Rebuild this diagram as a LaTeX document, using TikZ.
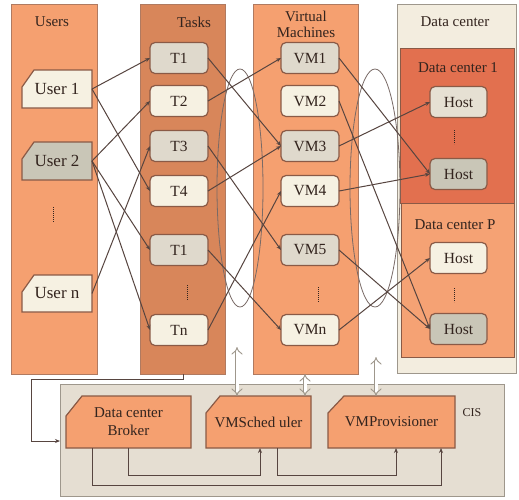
\documentclass[tikz,border=0pt]{standalone}
\usepackage{fontspec}
\setmainfont{Liberation Serif}
\usetikzlibrary{arrows.meta}
\definecolor{colA}{HTML}{F5A070}
\definecolor{colT}{HTML}{D8865A}
\definecolor{dcout}{HTML}{F3EDDF}
\definecolor{dcone}{HTML}{E2704F}
\definecolor{dcp}{HTML}{F5A274}
\definecolor{cisbg}{HTML}{E5DED2}
\definecolor{cisln}{HTML}{9E978C}
\definecolor{bxln}{HTML}{8A5A46}
\definecolor{bgray}{HTML}{DFD9CC}
\definecolor{bcream}{HTML}{F6F1E2}
\definecolor{bdark}{HTML}{C9C6B7}
\definecolor{lnc}{HTML}{574540}
\definecolor{txc}{HTML}{33241E}
\definecolor{colln}{HTML}{B07A60}
\newcommand\chbox[9]{%
  \draw[draw=bxln, line width=1.2pt, fill=#8] (#2,#5) -- (#4,#5) -- (#4,#3) -- ({#2+#6},#3) -- (#2,{#3+#7}) -- cycle;
  \node[rectangle, inner sep=0, outer sep=0, minimum width={(#4-#2)*1pt}, minimum height={(#5-#3)*1pt}, text=txc, align=center] (#1) at ({(#2+#4)/2},{(#3+#5)/2}) {#9};%
}
\begin{document}
\begin{tikzpicture}[x=1pt,y=-1pt,
  colbox/.style={rectangle, inner sep=0, outer sep=0, anchor=north west, draw=colln, line width=0.8pt},
  rbox/.style={rectangle, rounded corners=5pt, draw=bxln, line width=1.2pt, minimum width=58pt, minimum height=31pt, inner sep=0, outer sep=0, font=\fontsize{15.5}{17}\selectfont, text=txc},
  conn/.style={draw=lnc, line width=1pt, -{Stealth[length=5pt,width=4pt]}},
  hdr/.style={font=\fontsize{15}{17}\selectfont, text=txc},
  dotline/.style={draw=txc, line width=0.6pt, dash pattern=on 0.8pt off 1.2pt},
  dbl/.style={draw=cisln, double=white, double distance=3pt, line width=0.9pt, {Implies}-{Implies}},
  ellc/.style={draw=lnc!80, line width=0.8pt}]
\fill[white] (0,0) rectangle (519,499);
\useasboundingbox (0,0) rectangle (519,499);
% columns
\node[colbox, fill=colA, minimum width=86pt, minimum height=370pt] (usercol) at (11,4) {};
\node[colbox, fill=colT, minimum width=85pt, minimum height=370pt] (taskcol) at (140,4) {};
\node[colbox, fill=colA, minimum width=105pt, minimum height=370pt] (vmcol) at (253,4) {};
\node[colbox, fill=dcout, draw=cisln, minimum width=119pt, minimum height=369pt] (dccol) at (397,4) {};
\node[colbox, fill=dcone, draw=bxln, minimum width=114pt, minimum height=155pt] (dc1) at (400,48) {};
\node[colbox, fill=dcp, draw=bxln, minimum width=113pt, minimum height=154pt] (dcP) at (401,203) {};
% CIS
\node[colbox, fill=cisbg, draw=cisln, line width=1pt, minimum width=444pt, minimum height=112pt] (cis) at (60,384) {};
% headers
\node[hdr] (hu) at (52,22) {Users};
\node[hdr] (ht) at (194,22) {Tasks};
\node[hdr, align=center] (hv) at (306,24) {Virtual\\[-1pt]Machines};
\node[hdr] (hd) at (455,22) {Data center};
\node[hdr] (hd1) at (458,68) {Data center 1};
\node[hdr] (hdp) at (455,225) {Data center P};
\node[font=\fontsize{12}{14}\selectfont, text=txc] (cisl) at (472,413) {CIS};
% users
\begin{scope}[font=\fontsize{17}{19}\selectfont]
\chbox{u1}{22}{70}{92}{108}{12}{17}{bcream}{User 1}
\chbox{u2}{22}{142}{92}{180}{12}{17}{bdark}{User 2}
\chbox{un}{22}{275}{92}{312}{12}{17}{bcream}{User n}
\end{scope}
% tasks
\node[rbox, fill=bgray] (t1) at (179,58) {T1};
\node[rbox, fill=bcream] (t2) at (179,101) {T2};
\node[rbox, fill=bgray] (t3) at (179,146) {T3};
\node[rbox, fill=bcream] (t4) at (179,191) {T4};
\node[rbox, fill=bgray] (t5) at (179,250) {T1};
\node[rbox, fill=bcream] (tn) at (179,330) {Tn};
% vms
\node[rbox, fill=bgray] (v1) at (310,58) {VM1};
\node[rbox, fill=bcream] (v2) at (310,101) {VM2};
\node[rbox, fill=bgray] (v3) at (310,146) {VM3};
\node[rbox, fill=bcream] (v4) at (310,191) {VM4};
\node[rbox, fill=bgray] (v5) at (310,250) {VM5};
\node[rbox, fill=bcream] (vn) at (310,330) {VMn};
% hosts
\node[rbox, fill=bgray!70!bcream, minimum width=57pt] (h1) at (458.5,102) {Host};
\node[rbox, fill=bdark, minimum width=57pt] (h2) at (458.5,174) {Host};
\node[rbox, fill=bcream, minimum width=57pt] (h3) at (458.5,258) {Host};
\node[rbox, fill=bdark, minimum width=57pt] (h4) at (458.5,329) {Host};
% dots
\draw[dotline] (53,207) -- (53,222);
\draw[dotline] (187,285) -- (187,300);
\draw[dotline] (318,287) -- (318,302);
\draw[dotline] (454,130) -- (454,144);
\draw[dotline] (454,288) -- (454,302);
% ellipses
\draw[ellc] (240,188) ellipse [x radius=23, y radius=119];
\draw[ellc] (375,188) ellipse [x radius=25, y radius=119];
% user -> task
\draw[conn] (u1.east) -- (t1.west);
\draw[conn] (u1.east) -- (t4.west);
\draw[conn] (u2.east) -- (t2.west);
\draw[conn] (u2.east) -- (t5.west);
\draw[conn] (u2.east) -- (tn.west);
\draw[conn] (un.east) -- (t3.west);
% task -> vm
\draw[conn] (t1.east) -- (v3.west);
\draw[conn] (t2.east) -- (v1.west);
\draw[conn] (t3.east) -- (v5.west);
\draw[conn] (t4.east) -- (v3.west);
\draw[conn] (t5.east) -- (vn.west);
\draw[conn] (tn.east) -- (v4.west);
% vm -> host
\draw[conn] (v1.east) -- (h2.west);
\draw[conn] (v2.east) -- (h4.west);
\draw[conn] (v3.east) -- (h1.west);
\draw[conn] (v4.east) -- (h2.west);
\draw[conn] (v5.east) -- (h4.west);
\draw[conn] (vn.east) -- (h3.west);
% CIS boxes
\begin{scope}[font=\fontsize{15}{17}\selectfont]
\chbox{br}{66}{396}{191}{448}{16}{20}{colA}{Data center\\[1pt]Broker}
\chbox{vs}{206}{396}{311}{448}{14}{17}{colA}{VMSched uler}
\chbox{vp}{328}{396}{455}{448}{16}{17}{colA}{VMProvisioner}
\end{scope}
% bottom connectors
\coordinate (cisin) at (60,441);
\coordinate (a1) at (237,347);
\coordinate (a2) at (305,374);
\coordinate (a3) at (376,357);
\draw[conn] ([xshift=43pt]taskcol.south west) |- (31,379) |- (cisin);
\draw[conn] (br.south) -- ++(0,27) -| ([xshift=1.5pt]vs.south);
\draw[conn] ([xshift=26pt]br.south west) -- ++(0,37) -| ([xshift=-14pt]vp.south east);
\draw[conn] ([xshift=-34pt]vs.south east) -- ++(0,27) -| ([xshift=68pt]vp.south west);
% double arrows
\draw[dbl] (a1) -- (vs.north -| a1);
\draw[dbl] (a2) -- (vs.north -| a2);
\draw[dbl] (a3) -- (vp.north -| a3);
\end{tikzpicture}
\end{document}
